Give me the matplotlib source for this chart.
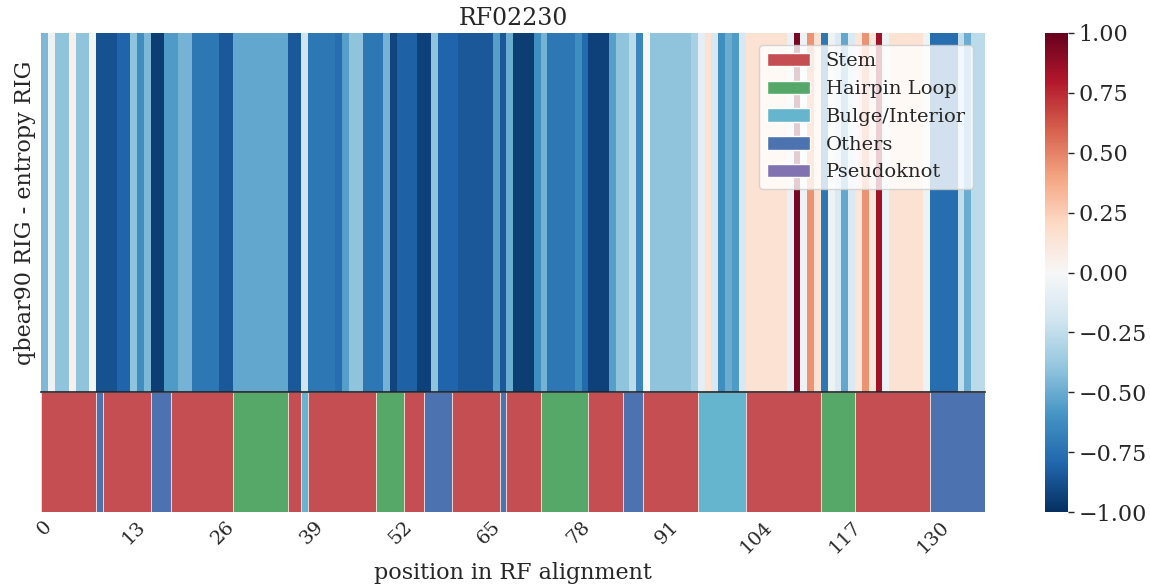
import numpy as np
import matplotlib
matplotlib.use('Agg')
import matplotlib.pyplot as plt
import seaborn as sns
from matplotlib.patches import Patch

sns.set_style('white')
plt.rcParams['font.family'] = ['DejaVu Serif']

family = 'RF02230'

# qbear90 RIG - entropy RIG per alignment position (0..137)
rig_diff = [
    -0.45, -0.05, -0.40, -0.40, 0.05, -0.40, -0.40, -0.03, -0.87, -0.87,
    -0.87, -0.80, -0.80, -0.40, -0.62, -0.45, -0.95, -0.95, -0.57, -0.57,
    -0.47, -0.47, -0.72, -0.72, -0.72, -0.72, -0.85, -0.85, -0.52, -0.52,
    -0.52, -0.52, -0.52, -0.52, -0.52, -0.52, -0.85, -0.85, -0.20, -0.72,
    -0.72, -0.72, -0.72, -0.76, -0.55, -0.40, -0.40, -0.72, -0.72, -0.72,
    -0.47, -0.92, -0.82, -0.82, -0.82, -0.93, -0.93, -0.40, -0.80, -0.80,
    -0.80, -0.85, -0.85, -0.85, -0.85, -0.85, -0.55, -0.85, -0.50, -0.95,
    -0.95, -0.95, -0.62, -0.47, -0.72, -0.72, -0.72, -0.72, -0.62, -0.78,
    -0.93, -0.93, -0.93, -0.55, -0.40, -0.40, -0.27, -0.65, 0.00, -0.40,
    -0.40, -0.40, -0.40, -0.40, -0.40, -0.33, -0.10, 0.15, -0.17, -0.62,
    -0.50, -0.57, -0.17, 0.15, 0.15, 0.15, 0.15, 0.15, 0.15, -0.07,
    0.95, -0.05, 0.45, 0.15, -0.72, -0.05, -0.15, -0.52, -0.15, 0.12,
    0.45, 0.12, 0.85, -0.05, 0.15, 0.15, 0.15, 0.15, 0.15, -0.05,
    -0.76, -0.76, -0.76, -0.76, -0.25, -0.50, -0.27, -0.27,
]

# secondary structure as runs along the alignment
struct_type = ['Stem', 'Others', 'Stem', 'Others', 'Stem', 'Hairpin Loop', 'Stem',
               'Bulge/Interior', 'Stem', 'Hairpin Loop', 'Stem', 'Others', 'Stem',
               'Others', 'Stem', 'Hairpin Loop', 'Stem', 'Others', 'Stem',
               'Bulge/Interior', 'Stem', 'Hairpin Loop', 'Stem', 'Others']
struct_len = [8, 1, 7, 3, 9, 8, 2, 1, 10, 4, 3, 4, 7, 1, 5, 7, 5, 3, 8, 7, 11, 5, 11, 8]

labels = ['Stem', 'Hairpin Loop', 'Bulge/Interior', 'Others', 'Pseudoknot']
colors = ['#C44E52', '#55A868', '#64B5CD', '#4C72B0', '#8172B2']
color_of = dict(zip(labels, colors))

n = len(rig_diff)
fig = plt.figure(figsize=(11.5, 5.88), dpi=100)
ax = fig.add_axes([0.036, 0.3333, 0.8205, 0.6105])
ax2 = fig.add_axes([0.036, 0.129, 0.8205, 0.2041])
cax = fig.add_axes([0.9087, 0.129, 0.02, 0.8149])

sns.heatmap(np.array(rig_diff).reshape(1, -1), ax=ax, cbar_ax=cax, cmap='RdBu_r',
            vmin=-1, vmax=1, xticklabels=False, yticklabels=False)
ax.set_title(family, fontsize=17)
ax.set_ylabel('qbear90 RIG - entropy RIG', fontsize=16)

start = 0
for t, l in zip(struct_type, struct_len):
    ax2.bar(start, 1, width=l, align='edge', color=color_of[t], edgecolor='#f0e0e0', linewidth=0.6)
    start += l
ax2.set_xlim(0, n)
ax2.set_ylim(0, 1)
ax2.set_yticks([])
pos = np.arange(0, n, 13)
ax2.set_xticks(pos + 0.5)
ax2.set_xticklabels([str(p) for p in pos], rotation=45, fontsize=14)
ax2.tick_params(axis='x', length=0, pad=4)
for s in ['left', 'right', 'bottom']:
    ax2.spines[s].set_visible(False)
ax2.spines['top'].set_color('#222222')
ax2.spines['top'].set_linewidth(1.2)
ax2.set_xlabel('position in RF alignment', fontsize=16)

handles = [Patch(facecolor=c, label=lb) for lb, c in zip(labels, colors)]
ax.legend(handles=handles, loc='upper right', fontsize=14,
          handlelength=2.2, borderaxespad=0.6)

cax.set_yticks([-1, -0.75, -0.5, -0.25, 0, 0.25, 0.5, 0.75, 1])
cax.set_yticklabels(['%.2f' % v if v >= 0 else '\u2212%.2f' % -v
                     for v in [-1, -0.75, -0.5, -0.25, 0, 0.25, 0.5, 0.75, 1]])
cax.tick_params(labelsize=16, length=4, width=1, right=True)

fig.savefig('out.png', dpi=100)
